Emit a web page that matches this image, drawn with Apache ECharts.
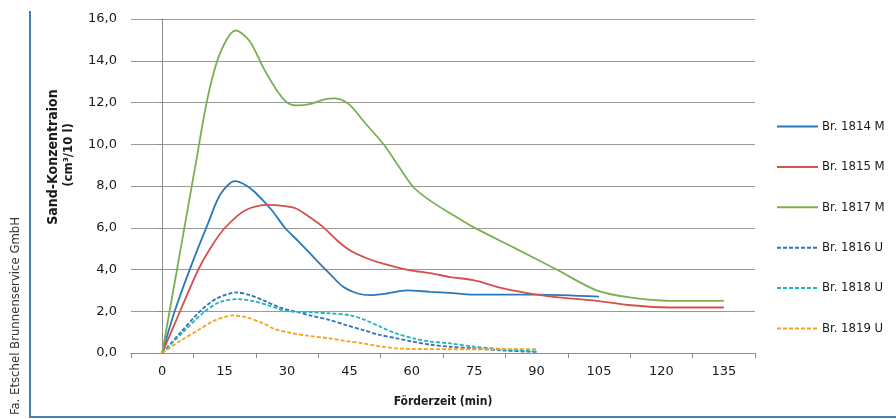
<!DOCTYPE html>
<html>
<head>
<meta charset="utf-8">
<script src="https://cdn.jsdelivr.net/npm/echarts@6/dist/echarts.min.js"></script>
<style>
html,body{margin:0;padding:0;background:#fff;}
#chart{width:896px;height:419px;}
</style>
</head>
<body>
<div id="chart"></div>
<script>
// ---- Data ----
const categories = ['0','15','30','45','60','75','90','105','120','135'];
const yTicks = [0,2,4,6,8,10,12,14,16];

const x1814 = [0,3,7,11,14,17.5,20,22.3,26.3,29.5,33,37.1,40.5,43.5,47,50,54,58.8,64.4,69.2,74.8,90,105];
const y1814 = [0,2.0,4.2,6.2,7.6,8.23,8.05,7.7,6.85,6.0,5.3,4.44,3.75,3.17,2.85,2.77,2.85,3.0,2.93,2.88,2.8,2.8,2.7];

const x1815 = [0,4.3,8.7,12,15.1,19.9,25.5,29,32.3,35.5,38.7,42,45.1,49,53.1,59.6,64.4,69.2,74.8,82,89.2,96,104.4,112,122,135];
const y1815 = [0,2.0,4.0,5.15,6.0,6.83,7.1,7.05,6.91,6.5,6.03,5.4,4.92,4.55,4.28,3.96,3.83,3.64,3.49,3.09,2.82,2.65,2.5,2.3,2.18,2.18];

const x1817 = [0,4,8,11,14,17.7,21,24.3,27.5,30,32.3,36,39,41.5,45,48.4,53.2,57,60.4,64.4,70,74.8,85,94.8,104.4,112.4,122,135];
const y1817 = [0,4.5,9.0,12.3,14.4,15.45,14.95,13.67,12.6,12.0,11.86,11.95,12.15,12.2,11.9,11.1,10.0,8.9,7.94,7.3,6.6,6.03,5.0,4.0,3.0,2.66,2.5,2.5];

const x1816 = [0,4.5,9.1,13,17.9,21,24.3,28,32.3,36,40.3,44,48.3,52,56.4,60,64.4,69.2,75,82,90];
const y1816 = [0,1.0,2.0,2.6,2.9,2.78,2.53,2.2,1.97,1.78,1.58,1.35,1.1,0.88,0.7,0.55,0.4,0.3,0.22,0.12,0.05];

const x1818 = [0,5,10.3,14,18.3,22,26,29,32.3,36,40.3,45.1,48.5,52.4,56,60.4,64.4,69.2,75,82,90];
const y1818 = [0,1.0,2.0,2.45,2.58,2.48,2.25,2.05,1.97,1.95,1.9,1.81,1.6,1.26,0.95,0.7,0.55,0.46,0.3,0.18,0.08];

const x1819 = [0,4.5,8.7,12.5,17.1,20,24.3,27,30.7,35,40.3,44,48.3,52,56.4,60,69.2,80,90];
const y1819 = [0,0.6,1.1,1.55,1.8,1.72,1.42,1.15,0.97,0.83,0.7,0.58,0.46,0.33,0.22,0.2,0.18,0.18,0.19];

const seriesNames = ['Br. 1814 M','Br. 1815 M','Br. 1817 M','Br. 1816 U','Br. 1818 U','Br. 1819 U'];
const seriesX = [x1814,x1815,x1817,x1816,x1818,x1819];
const seriesY = [y1814,y1815,y1817,y1816,y1818,y1819];
const seriesColors = ['#2a78b8','#d4504c','#78b150','#2e75b6','#20b5b8','#f7a21b'];
const seriesDashed = [false,false,false,true,true,true];

// ---- Chart ----
const FONT = 'DejaVu Sans';
const FONTC = 'DejaVu Sans Condensed';
const chart = echarts.init(document.getElementById('chart'), null, {renderer:'canvas'});

function zip(xs, ys){ return xs.map((x,i)=>[x, ys[i]]); }

const series = seriesNames.map((name,i)=>({
  name: name,
  type: 'line',
  xAxisIndex: 1,
  yAxisIndex: 0,
  data: zip(seriesX[i], seriesY[i]),
  smooth: 0.3,
  symbol: 'none',
  showSymbol: false,
  animation: false,
  lineStyle: {
    color: seriesColors[i],
    width: 1.8,
    type: seriesDashed[i] ? [4,2] : 'solid'
  },
  itemStyle: {color: seriesColors[i]},
  emphasis: {disabled: true}
}));

const option = {
  animation: false,
  backgroundColor: '#fff',
  grid: {left: 131, right: 141, top: 19, bottom: 66, containLabel: false},
  legend: {
    orient: 'vertical',
    left: 771,
    top: 115,
    itemWidth: 41,
    itemHeight: 14,
    itemGap: 27.4,
    data: seriesNames,
    itemStyle: {opacity: 0, borderWidth: 0},
    textStyle: {fontFamily: FONTC, fontSize: 13, color: '#1a1a1a', padding: [0,0,0,-1]},
    selectedMode: false
  },
  xAxis: [
    {
      type: 'category',
      data: categories,
      boundaryGap: true,
      position: 'bottom',
      axisLine: {show: true, lineStyle: {color: '#8c8c8c', width: 1}},
      axisTick: {show: true, alignWithLabel: false, length: 5, lineStyle: {color: '#8c8c8c'}},
      axisLabel: {fontFamily: FONT, fontSize: 13, color: '#1a1a1a', margin: 12},
      splitLine: {show: false},
      name: 'Förderzeit (min)',
      nameLocation: 'middle',
      nameGap: 43,
      nameTextStyle: {fontFamily: FONTC, fontWeight: 'bold', fontSize: 12, color: '#1a1a1a'}
    },
    {
      type: 'value',
      min: -7.5,
      max: 142.5,
      show: false,
      position: 'bottom',
      splitLine: {show: false}
    }
  ],
  yAxis: [{
    type: 'value',
    min: yTicks[0],
    max: yTicks[yTicks.length-1],
    interval: 2,
    axisLine: {show: true, lineStyle: {color: '#8c8c8c', width: 1}},
    axisTick: {show: true, length: 5, lineStyle: {color: '#8c8c8c'}},
    axisLabel: {
      fontFamily: FONT, fontSize: 13, color: '#1a1a1a', margin: 14,
      formatter: v => v.toFixed(1).replace('.', ',')
    },
    splitLine: {show: true, lineStyle: {color: '#999999', width: 1.2}}
  }],
  graphic: [
    {
      type: 'line',
      shape: {x1: 30, y1: 11, x2: 30, y2: 417},
      style: {stroke: '#4a7ebb', lineWidth: 2},
      silent: true
    },
    {
      type: 'line',
      shape: {x1: 29, y1: 417, x2: 896, y2: 417},
      style: {stroke: '#4a7ebb', lineWidth: 2},
      silent: true
    },
    {
      type: 'text',
      x: 16, y: 316,
      rotation: Math.PI/2,
      style: {text: 'Fa. Etschel Brunnenservice GmbH', fontFamily: FONTC, fontSize: 13, fill: '#333',
              align: 'center', verticalAlign: 'middle'},
      silent: true
    },
    {
      type: 'text',
      x: 53.5, y: 157,
      rotation: Math.PI/2,
      style: {text: 'Sand-Konzentraion', fontFamily: FONTC, fontWeight: 'bold', fontSize: 14, fill: '#1a1a1a',
              align: 'center', verticalAlign: 'middle'},
      silent: true
    },
    {
      type: 'text',
      x: 68.5, y: 155,
      rotation: Math.PI/2,
      style: {text: '(cm³/10 l)', fontFamily: FONTC, fontWeight: 'bold', fontSize: 13, fill: '#1a1a1a',
              align: 'center', verticalAlign: 'middle'},
      silent: true
    }
  ],
  series: series
};
chart.setOption(option);
</script>
</body>
</html>
